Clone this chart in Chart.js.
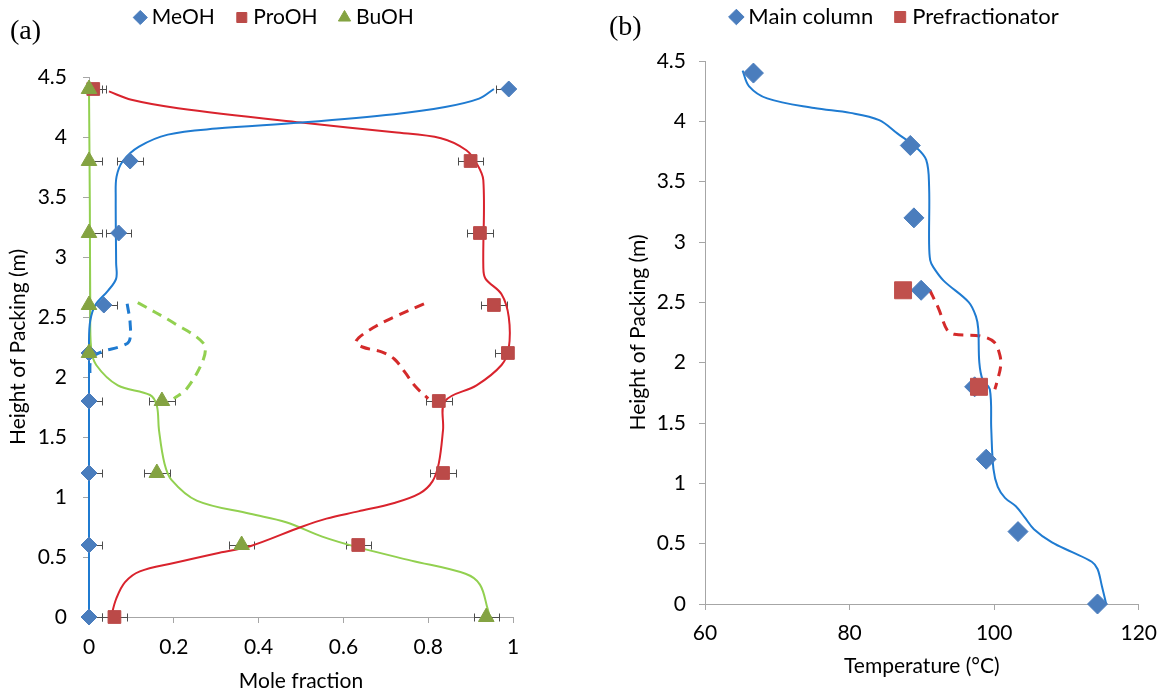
<!DOCTYPE html>
<html>
<head>
<meta charset="utf-8">
<script src="https://cdn.jsdelivr.net/npm/chart.js@4.4.1/dist/chart.umd.min.js"></script>
<style>
  body { margin: 0; width: 1168px; height: 695px; background: #fff; position: relative; overflow: hidden; }
  .box { position: absolute; top: 0; height: 695px; }
  .tag { position: absolute; font-family: "Liberation Serif", serif; font-size: 28px; color: #000; }
</style>
</head>
<body>
<div class="box" style="left:0;width:560px"><canvas id="chartA"></canvas></div>
<div class="box" style="left:600px;width:568px"><canvas id="chartB"></canvas></div>
<div class="tag" style="left:10px;top:14px">(a)</div>
<div class="tag" style="left:609px;top:10px">(b)</div>
<script>
// ---- (a) composition profiles ----
var heights = [0, 0.6, 1.2, 1.8, 2.2, 2.6, 3.2, 3.8, 4.4];
var meohExp = [0, 0, 0, 0, 0, 0.035, 0.07, 0.097, 0.99];
var proohExp = [0.06, 0.635, 0.835, 0.825, 0.988, 0.955, 0.922, 0.9, 0.01];
var buohExp = [0.937, 0.36, 0.16, 0.172, 0, 0, 0, 0, 0];
var meohErr = [0.03, 0.03, 0.03, 0.03, 0.03, 0.03, 0.03, 0.03, 0.03];
var proohErr = [0.03, 0.03, 0.03, 0.03, 0.03, 0.03, 0.03, 0.03, 0.03];
var buohErr = [0.03, 0.03, 0.03, 0.03, 0.03, 0.03, 0.03, 0.03, 0.03];

// simulated main column profiles [mole fraction, height]
var meohSim = [[0,0],[0,1.2],[0,2.3],[0.003,2.47],[0.015,2.6],[0.045,2.72],[0.064,2.82],[0.064,2.95],[0.063,3.5],[0.065,3.67],[0.08,3.8],[0.118,3.92],[0.186,4.02],[0.3,4.07],[0.5,4.12],[0.72,4.19],[0.84,4.25],[0.92,4.32],[0.955,4.4]];
var proohSim = [[0.052,0],[0.064,0.15],[0.085,0.29],[0.12,0.38],[0.2,0.45],[0.3,0.53],[0.38,0.59],[0.5,0.75],[0.56,0.82],[0.635,0.88],[0.72,0.95],[0.78,1.03],[0.81,1.13],[0.825,1.28],[0.835,1.56],[0.84,1.8],[0.914,1.93],[0.973,2.1],[0.99,2.24],[0.99,2.5],[0.973,2.69],[0.935,2.82],[0.93,2.92],[0.93,3.64],[0.914,3.78],[0.89,3.89],[0.83,3.99],[0.72,4.04],[0.5,4.12],[0.21,4.24],[0.1,4.31],[0.047,4.38]];
var buohSim = [[0,4.4],[0.002,3.4],[0.003,2.6],[0.005,2.24],[0.017,2.1],[0.068,1.93],[0.144,1.85],[0.16,1.76],[0.165,1.56],[0.178,1.28],[0.195,1.14],[0.254,0.97],[0.38,0.86],[0.465,0.79],[0.55,0.67],[0.635,0.58],[0.76,0.47],[0.888,0.36],[0.922,0.27],[0.94,0.07],[0.945,0]];

// simulated prefractionator profiles
var meohPre = [[0.09,2.61],[0.097,2.45],[0.095,2.3],[0.075,2.255],[0.03,2.21],[0.005,2.15],[0.002,2.0]];
var proohPre = [[0.79,2.61],[0.72,2.5],[0.67,2.41],[0.63,2.3],[0.645,2.25],[0.69,2.21],[0.72,2.15],[0.745,2.04],[0.77,1.92],[0.8,1.82]];
var buohPre = [[0.115,2.62],[0.2,2.45],[0.27,2.28],[0.27,2.15],[0.23,1.9],[0.2,1.82]];

// ---- (b) temperature profiles ----
var mainHeights = [0, 0.6, 1.2, 1.8, 2.6, 3.2, 3.8, 4.4];
var mainTemp = [114.3, 103.3, 98.9, 97.3, 89.9, 88.9, 88.4, 66.7];
var preHeights = [1.8, 2.6];
var preTemp = [97.9, 87.4];
var mainSim = [[115.5,0],[114.9,0.15],[114.3,0.29],[113.5,0.35],[110.8,0.43],[108,0.51],[105.5,0.62],[104.2,0.72],[103,0.81],[101.5,0.88],[100.5,0.97],[99.9,1.12],[99.6,1.45],[99.4,1.78],[98.4,1.86],[97.95,2.0],[97.8,2.28],[97.5,2.38],[96.5,2.5],[93,2.68],[91.6,2.79],[91.15,2.85],[91.0,3.0],[91.0,3.46],[90.6,3.68],[89.1,3.79],[86.6,3.9],[84.1,4.01],[80.1,4.07],[75.1,4.11],[68.6,4.19],[66.1,4.29],[65.2,4.42]];
var preSim = [[91.1,2.6],[92.3,2.45],[93.5,2.27],[94.5,2.235],[98.1,2.22],[100.0,2.17],[100.8,2.06],[100.9,1.97],[100.3,1.82],[100.1,1.78]];

var FONT = 'Lato, "Open Sans", sans-serif';
Chart.defaults.font.family = FONT;
Chart.defaults.color = '#000';

function pts(xs, hs) { return xs.map(function (v, i) { return { x: v, y: hs[i] }; }); }
function curve(pairs) { return pairs.map(function (p) { return { x: p[0], y: p[1] }; }); }

function markers(label, xs, hs, style, r, color, err, order) {
  return { label: label, data: pts(xs, hs), showLine: false, pointStyle: style, pointRadius: r,
    pointBackgroundColor: color, pointBorderColor: color, pointBorderWidth: 1,
    backgroundColor: color, borderColor: color, xErr: err, order: order, clip: false };
}
function line(label, pairs, color, width, dash) {
  return { label: label, data: curve(pairs), showLine: true, pointRadius: 0, borderColor: color,
    borderWidth: width, borderDash: dash || [], tension: 0.35, order: 5, clip: false };
}

// horizontal error bars drawn through the x scale
var errorBars = {
  id: 'errorBars',
  beforeDatasetsDraw: function (chart, args, opts) {
    var ctx = chart.ctx, area = chart.chartArea, xs = chart.scales.x;
    ctx.save();
    ctx.beginPath();
    ctx.rect(area.left, area.top - 20, area.right - area.left, area.bottom - area.top + 40);
    ctx.clip();
    ctx.strokeStyle = opts.color;
    ctx.lineWidth = 1;
    chart.data.datasets.forEach(function (ds, i) {
      if (!ds.xErr) return;
      chart.getDatasetMeta(i).data.forEach(function (pt, j) {
        var v = ds.data[j].x, e = ds.xErr[j];
        var x0 = Math.round(xs.getPixelForValue(v - e)) + 0.5;
        var x1 = Math.round(xs.getPixelForValue(v + e)) + 0.5;
        var y = Math.round(pt.y) + 0.5, c = opts.cap / 2;
        ctx.beginPath();
        ctx.moveTo(x0, y); ctx.lineTo(x1, y);
        ctx.moveTo(x0, y - c); ctx.lineTo(x0, y + c);
        ctx.moveTo(x1, y - c); ctx.lineTo(x1, y + c);
        ctx.stroke();
      });
    });
    ctx.restore();
  }
};

// gives the legend a fixed height and nudges its row
var legendPlace = {
  id: 'legendPlace',
  afterInit: function (chart) {
    var lg = chart.legend, fit = lg.fit;
    lg.fit = function () { fit.call(this); this.height = chart.options.plugins.legendPlace.height; };
  },
  afterLayout: function (chart, args, opts) {
    var lg = chart.legend;
    lg.top += opts.shift; lg.bottom += opts.shift;
    lg.left += opts.dx; lg.right += opts.dx;
  }
};

function tickText(v) { return String(Math.round(v * 100) / 100); }

function axis(min, max, step, title, tickPad, titlePad, fit) {
  return {
    type: 'linear', min: min, max: max,
    ticks: { stepSize: step, padding: tickPad, color: '#000', font: { size: 21 }, callback: tickText },
    grid: { drawOnChartArea: false, drawTicks: true, tickLength: 6, color: '#a6a6a6' },
    border: { color: '#a6a6a6', width: 1 },
    title: { display: true, text: title, color: '#000', font: { size: 21 }, padding: titlePad },
    afterFit: fit
  };
}

function baseOptions(legendHeight, legendShift, dx, boxH, fontSize, padRight) {
  return {
    responsive: true, maintainAspectRatio: false, animation: false, events: [],
    layout: { padding: { left: 0, right: padRight, top: 0, bottom: 0 } },
    plugins: {
      tooltip: { enabled: false },
      legend: {
        position: 'top',
        labels: {
          usePointStyle: true, boxWidth: 2, boxHeight: boxH, padding: 26, color: '#000',
          font: { size: fontSize },
          filter: function (item) { return item.text.indexOf('sim') < 0; },
          sort: function (a, b) { return a.datasetIndex - b.datasetIndex; }
        }
      },
      legendPlace: { height: legendHeight, shift: legendShift, dx: dx },
      errorBars: { color: '#4d4d4d', cap: 8 }
    }
  };
}

var optA = baseOptions(77, -19, 20, 10, 21, 47);
optA.scales = {
  x: axis(0, 1, 0.2, 'Mole fraction', 12, { top: 0, bottom: 1 }, function (s) { s.height = 78; }),
  y: axis(0, 4.5, 0.5, 'Height of Packing (m)', 16, { top: 6, bottom: 0 }, function (s) { s.width = 89; })
};

new Chart(document.getElementById('chartA'), {
  type: 'scatter',
  data: {
    datasets: [
      markers('MeOH', meohExp, heights, 'rectRot', 8, '#4a7dbd', meohErr, 2),
      markers('ProOH', proohExp, heights, 'rect', 9, '#bb4a48', proohErr, 1),
      markers('BuOH', buohExp, heights, 'triangle', 9, '#84a342', buohErr, 0),
      line('MeOH sim', meohSim, '#1f7bd1', 2),
      line('ProOH sim', proohSim, '#d9232d', 2),
      line('BuOH sim', buohSim, '#92d050', 2),
      line('MeOH sim pre', meohPre, '#1f7bd1', 3, [10, 7]),
      line('ProOH sim pre', proohPre, '#d42a2a', 3, [10, 7]),
      line('BuOH sim pre', buohPre, '#92d050', 3, [10, 7])
    ]
  },
  options: optA,
  plugins: [errorBars, legendPlace]
});

var optB = baseOptions(61, -20, 27, 11, 22, 28);
optB.scales = {
  x: axis(60, 120, 20, 'Temperature (°C)', 11, { top: 0, bottom: 16 }, function (s) { s.height = 91; }),
  y: axis(0, 4.5, 0.5, 'Height of Packing (m)', 13, { top: 26, bottom: 0 }, function (s) { s.width = 105; })
};

new Chart(document.getElementById('chartB'), {
  type: 'scatter',
  data: {
    datasets: [
      markers('Main column', mainTemp, mainHeights, 'rectRot', 10, '#4a7dbd', null, 1),
      markers('Prefractionator', preTemp, preHeights, 'rect', 12, '#c0504d', null, 0),
      line('Main sim', mainSim, '#1f7bd1', 2),
      line('Pre sim', preSim, '#d42a2a', 3, [10, 7])
    ]
  },
  options: optB,
  plugins: [errorBars, legendPlace]
});
</script>
</body>
</html>
